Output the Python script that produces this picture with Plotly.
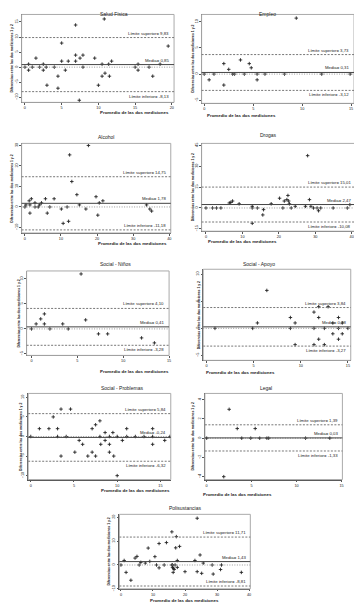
import plotly.graph_objects as go

# The page body has an 8px margin, so figure pixel = page pixel - OFF
OFF = 8
W, H = 354, 604

titles = ["Salud Física", "Empleo", "Alcohol", "Drogas", "Social - Niños",
          "Social - Apoyo", "Social - Problemas", "Legal", "Polisustancias"]

salud_x = [10.8, 6.9, 5.0, 19.5, 1.5, 6.9, 7.9, 7.5, 9.5, 5.0, 5.9, 6.9, 11.8, 0.5, 2.5, 10.5, 11.4, 15.4, 18.4,
           0.0, 1.0, 2.0, 2.9, 4.0, 7.9, 15.0, 16.9, 0.5, 2.5, 5.5, 15.4, 10.9, 4.5, 10.5, 11.5, 17.4, 3.0, 10.0, 4.5, 7.4]
salud_y = [16, 14, 8, 7, 3, 4, 4, 3, 3, 2, 2, 2, 2, 1, 1, 1, 1, 1, 1,
           0, 0, 0, 0, 0, 0, 0, 0, -1, -1, -1, -1, -2, -3, -3, -3, -3, -6, -6, -7, -11]

empleo_x = [9.4, 3.7, 2.0, 4.6, 4.8, 2.5, 0.0, 1.0, 2.9, 3.1, 4.1, 5.4, 6.2, 8.2, 12.0, 14.9, 0.5, 5.4, 2.0]
empleo_y = [10.7, 2.7, 2, 2, 1.2, 0.9, 0, 0, 0, 0, 0, 0, 0, 0, 0, 0, -1.1, -1.1, -2.1]

alcohol_x = [17.6, 12.4, 13.0, 14.4, 19.7, 1.8, 8.1, 5.7, 21.6, 1.2, 20.6, 2.8, 4.6, 0.3, 1.4, 4.1, 15.1, 33.7,
             0.0, 2.8, 3.7, 6.9, 11.7, 10.1, 16.9, 34.6, 35.1, 1.4, 6.2, 20.2, 10.6, 12.1]
alcohol_y = [30, 25.4, 12.4, 6, 5, 4, 4, 4, 3, 3, 2, 2, 2, 1, 1, 1, 1, 1,
             0, 0, 0, 0, 0, -1, -1, -1, -2, -3, -3, -4, -8, -7]

drogas_x = [27.9, 20.2, 22.5, 22.2, 21.5, 22.7, 22.9, 28.4, 7.3, 6.8, 6.4, 9.1, 12.7, 17.9, 24.5, 27.3, 28.8, 39.5,
            0.0, 1.8, 2.9, 4.1, 12.7, 14.1, 21.1, 23.4, 29.5, 30.5, 31.5, 34.9, 38.8, 15.8, 30.9, 15.6, 12.7]
drogas_y = [37.6, 7, 9, 6, 5, 5, 3, 6, 5, 4, 3.6, 3, 1.2, 3, 1.2, 1.2, 1.2, 2.4,
            0, 0, 0, 0, 0, 0, 0, 0, 0, 0, 0, 0, 0, -1.2, -2, -5, -11]

ninos_x = [5.4, 1.4, 1.0, 5.9, 0.5, 1.4, 3.4, 0.0, 2.0, 4.0, 7.3, 8.3, 12.0, 13.4]
ninos_y = [11, 3, 2, 1.8, 1, 1, 1, 0, 0, 0, -1, -1, -1.8, -2.8]

apoyo_x = [6.4, 11.4, 8.9, 11.9, 14.0, 12.9, 11.9, 5.4, 9.4, 13.4, 14.4, 0.9, 4.9, 8.9, 11.4, 12.5, 14.0, 15.0,
           13.4, 14.4, 11.9, 14.0, 9.4, 11.4, 12.5]
apoyo_y = [7, 3, 2, 2, 2, 4, 4, 1, 1, 1, 1, 0, 0, 0, 0, 0, 0, 0,
           -1, -1, -2, -2, -3, -3, -3]

problemas_x = [3.5, 4.6, 2.6, 8.0, 7.5, 1.0, 2.1, 3.1, 7.1, 11.1, 14.1, 8.6, 9.5,
               0.0, 3.1, 4.1, 8.0, 9.1, 10.0, 11.1, 12.1, 13.1, 14.1, 16.1,
               5.6, 8.6, 10.6, 15.5, 6.0, 8.1, 9.1, 14.1, 5.1, 7.1, 9.1, 3.5, 6.6, 7.5, 9.6, 10.0]
problemas_y = [7, 7, 5, 4, 3, 2, 2, 2, 2, 2, 2, 1, 1,
               0, 0, 0, 0, 0, 0, 0, 0, 0, 0, 0,
               -1, -1, -1, -1, -2, -2, -2, -2, -4, -4, -4, -5, -5, -5, -5, -10]

legal_x = [2.5, 3.4, 5.4, 0.0, 3.9, 4.9, 5.9, 6.7, 6.9, 11.0, 13.7, 1.9]
legal_y = [3, 1, 1, 0, 0, 0, 0, 0, 0, 0, 0, -4]

poli_x = [23.8, 15.9, 17.3, 11.9, 14.2, 18.3, 17.1, 8.5, 24.7, 10.6, 5.0, 4.4, 1.0, 6.2, 7.6, 9.0, 17.6, 23.1, 25.7,
          0.0, 5.7, 11.1, 13.5, 15.9, 16.1, 16.9, 28.5, 31.4, 16.1, 17.6, 11.9, 16.4, 16.6,
          1.6, 16.3, 20.0, 23.8, 25.2, 28.8, 31.1, 37.6, 3.1]
poli_y = [19.6, 13.9, 11.9, 9, 9.4, 7.8, 7.2, 7.1, 4.2, 3.5, 3.6, 2.9, 1.9, 1.1, 0.8, 1.5, 1.9, 1.9, 0.8,
          0, 0, 0, 0, 0, 0, 0, 0, 0, -1, -1, -1.2, -1.4, -1.9,
          -3.1, -3.1, -2.8, -2.8, -3.5, -3.8, -1.9, -3.1, -6.4]

xs = [salud_x, empleo_x, alcohol_x, drogas_x, ninos_x, apoyo_x, problemas_x, legal_x, poli_x]
ys = [salud_y, empleo_y, alcohol_y, drogas_y, ninos_y, apoyo_y, problemas_y, legal_y, poli_y]

upper = [9.83, 3.73, 14.75, 15.01, 4.10, 3.84, 5.84, 1.39, 11.71]
mean = [0.85, 0.31, 1.78, 2.47, 0.41, 0.28, -0.24, 0.03, 1.43]
lower = [-8.13, -3.12, -11.18, -10.08, -3.28, -3.27, -6.32, -1.33, -8.81]
upper_lbl = ["9,83", "3,73", "14,75", "15,01", "4,10", "3,84", "5,84", "1,39", "11,71"]
mean_lbl = ["0,85", "0,31", "1,78", "2,47", "0,41", "0,28", "-0,24", "0,03", "1,43"]
lower_lbl = ["-8,13", "-3,12", "-11,18", "-10,08", "-3,28", "-3,27", "-6,32", "-1,33", "-8,81"]

x_ticks = [[0, 5, 10, 15, 20], [0, 5, 10, 15], [0, 10, 20, 30, 40], [0, 10, 20, 30, 40],
           [0, 5, 10, 15], [0, 5, 10, 15], [0, 5, 10, 15], [0, 5, 10, 15], [0, 10, 20, 30, 40]]
y_ticks = [[-10, -5, 0, 5, 10, 15], [-5, 0, 5, 10], [-10, 0, 10, 20, 30], [-15, 0, 15, 30, 45],
           [-5, 0, 5, 10], [-5, 0, 5, 10], [-10, -5, 0, 5, 10], [-4, -2, 0, 2, 4], [-10, 0, 10, 20]]

# layout geometry in page pixels: frame box (x0, x1, y0, y1), axis ranges
frames = [(21.7, 175, 13.5, 102), (202.7, 356, 13.5, 103), (21.7, 171.7, 143.3, 233.5),
          (202.7, 357.7, 143.3, 231.7), (26.7, 170, 271.7, 356.7), (204.3, 352.7, 270, 361.7),
          (28.3, 171.7, 395, 481.7), (206, 344.3, 395, 481.7), (120, 251.7, 516.7, 591.7)]
xr = [(-0.45, 20.3), (-0.27, 15.3), (-0.9, 40.4), (-1.2, 41.1), (-0.54, 15.0), (-0.35, 15.3), (-0.3, 16.2),
      (-0.2, 15.1), (-0.5, 40.4)]
yr = [(-11.7, 17.5), (-5.6, 11.4), (-12.7, 31), (-16.7, 46.4), (-5.3, 11.6), (-5.9, 10.9), (-11, 11),
      (-4.3, 4.65), (-10, 21.25)]
title_y = [4, 5, 137, 135, 265, 265, 390, 390, 510]
xtitle_y = [112, 115, 244, 242.5, 373, 374, 493, 497, 603]
ytitle_x = [12, 194, 12.5, 194, 19.5, 199.5, 20.5, 194, 109.5]
lower_below = [True, True, False, True, True, True, True, True, False]


def px(p):
    return (p - OFF) / W


def py(p):
    return 1 - (p - OFF) / H


FONT = "Liberation Sans, Arial, sans-serif"
fig = go.Figure()
shapes, annotations = [], []
layout = dict(width=W, height=H, margin=dict(l=0, r=0, t=0, b=0), paper_bgcolor="white",
              plot_bgcolor="white", showlegend=False, font=dict(family=FONT, color="#222"))

for i in range(9):
    n = "" if i == 0 else str(i + 1)
    xa, ya = "x" + n, "y" + n
    x0, x1, y0, y1 = frames[i]
    fig.add_trace(go.Scatter(x=xs[i], y=ys[i], mode="markers", xaxis=xa, yaxis=ya,
                             marker=dict(symbol="cross-thin", size=2.5, line=dict(width=0.9, color="#222"))))
    common = dict(showgrid=False, zeroline=False, showline=True, linecolor="#555", linewidth=1,
                  ticks="outside", ticklen=1.5, tickwidth=1, tickcolor="#555",
                  tickfont=dict(size=3.8, family=FONT, color="#222"))
    layout["xaxis" + n] = dict(domain=[px(x0), px(x1)], range=list(xr[i]), tickvals=x_ticks[i],
                               anchor=ya, **common)
    layout["yaxis" + n] = dict(domain=[py(y1), py(y0)], range=list(yr[i]), tickvals=y_ticks[i],
                               anchor=xa, tickangle=-90, **common)
    xd, yd = xa + " domain", ya + " domain"
    shapes.append(dict(type="rect", xref=xd, yref=yd, x0=0, x1=1, y0=0, y1=1,
                       line=dict(color="#aaa", width=1)))
    shapes.append(dict(type="line", xref=xd, yref=ya, x0=0, x1=1, y0=upper[i], y1=upper[i],
                       line=dict(color="#777", width=1, dash="2px,1.5px")))
    shapes.append(dict(type="line", xref=xd, yref=ya, x0=0, x1=1, y0=lower[i], y1=lower[i],
                       line=dict(color="#777", width=1, dash="2px,1.5px")))
    shapes.append(dict(type="line", xref=xd, yref=ya, x0=0, x1=1, y0=0, y1=0,
                       line=dict(color="#999", width=1, dash="1px,1.5px")))
    shapes.append(dict(type="line", xref=xd, yref=ya, x0=0, x1=1, y0=mean[i], y1=mean[i],
                       line=dict(color="#444", width=1)))
    lab = dict(xref=xd, yref=ya, x=0.98, xanchor="right", showarrow=False,
               font=dict(size=4.3, family=FONT, color="#222"))
    annotations.append(dict(y=upper[i], yanchor="bottom", text="Límite superior= " + upper_lbl[i], **lab))
    annotations.append(dict(y=mean[i], yanchor="bottom", text="Media= " + mean_lbl[i], **lab))
    annotations.append(dict(y=lower[i], yanchor="top" if lower_below[i] else "bottom",
                            text="Límite inferior= " + lower_lbl[i], **lab))
    cx = px((x0 + x1) / 2)
    ty = py(title_y[i])
    if ty > 0.996:
        ty, tanchor = 1.0, "top"
    else:
        tanchor = "middle"
    annotations.append(dict(xref="paper", yref="paper", x=cx, y=ty, yanchor=tanchor,
                            text=titles[i], showarrow=False, font=dict(size=5.0, family=FONT, color="#222")))
    annotations.append(dict(xref="paper", yref="paper", x=cx, y=py(xtitle_y[i]), yanchor="middle",
                            text="<b>Promedio de las dos mediciones</b>", showarrow=False,
                            font=dict(size=4.4, family=FONT, color="#222")))
    annotations.append(dict(xref="paper", yref="paper", x=px(ytitle_x[i]), y=py((y0 + y1) / 2),
                            xanchor="center", yanchor="middle", textangle=-90,
                            text="<b>Diferencias entre las dos mediciones 1 y 2</b>", showarrow=False,
                            font=dict(size=3.4, family=FONT, color="#222")))

layout["shapes"] = shapes
layout["annotations"] = annotations
fig.update_layout(**layout)
fig.write_html("out.html")
